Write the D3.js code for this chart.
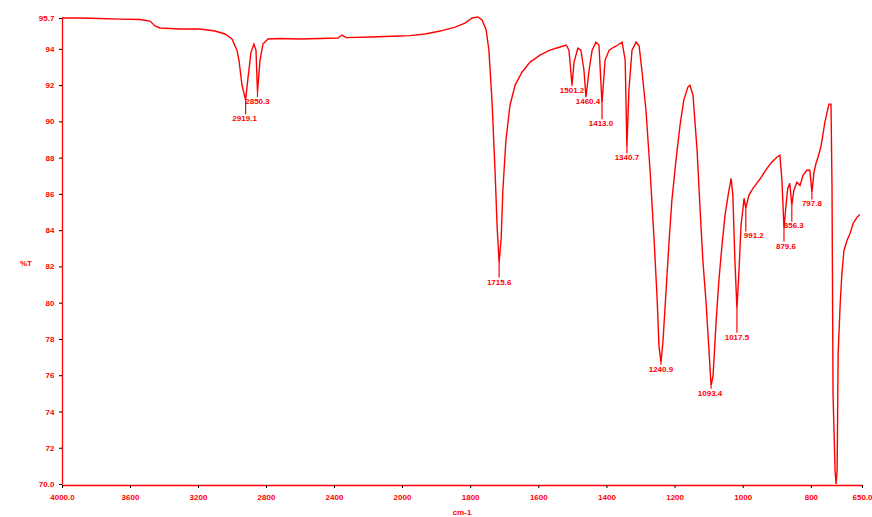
<!DOCTYPE html>
<html>
<head>
<meta charset="utf-8">
<script src="https://cdn.jsdelivr.net/npm/d3@7"></script>
<style>
  body { margin: 0; background: #fff; }
  svg text { font-family: "Liberation Sans", Arial, sans-serif; }
</style>
</head>
<body>
<div id="spectrum"></div>
<script>
// IR spectrum, wavenumber (cm-1) vs %T
const wavenumber = [4000, 3894, 3776, 3659, 3541, 3482, 3453, 3424, 3306, 3188, 3100, 3041, 3000, 2971, 2959, 2941,
  2920, 2906, 2888, 2871, 2859, 2850, 2835, 2818, 2788, 2718, 2600, 2482, 2376, 2353, 2329, 2188, 2012, 1977, 1932,
  1888, 1844, 1815, 1794, 1777, 1765, 1753, 1745, 1736, 1727, 1721, 1715, 1709, 1704, 1695, 1683, 1668, 1648, 1624,
  1595, 1566, 1536, 1518, 1510, 1501, 1495, 1484, 1475, 1466, 1460, 1451, 1442, 1431, 1422, 1413, 1404, 1392, 1378,
  1366, 1354, 1345, 1340, 1334, 1325, 1313, 1304, 1296, 1284, 1272, 1260, 1251, 1246, 1240, 1234, 1225, 1216, 1208,
  1196, 1184, 1173, 1161, 1155, 1146, 1134, 1125, 1117, 1108, 1099, 1093, 1087, 1078, 1070, 1061, 1052, 1043, 1034,
  1029, 1023, 1017, 1011, 1005, 996, 991, 982, 970, 959, 944, 929, 915, 900, 891, 885, 879, 873, 868, 862, 856, 850,
  841, 832, 823, 812, 803, 797, 791, 785, 779, 771, 765, 759, 753, 747, 741, 738, 735, 729, 726, 723, 720, 714, 709,
  703, 694, 685, 676, 665, 656];

const transmittance = [95.70, 95.70, 95.67, 95.64, 95.62, 95.53, 95.26, 95.15, 95.09, 95.09, 94.98, 94.82, 94.54,
  93.93, 93.37, 91.99, 91.17, 92.38, 93.82, 94.26, 93.93, 91.61, 93.38, 94.26, 94.54, 94.57, 94.54, 94.57, 94.60,
  94.76, 94.62, 94.65, 94.71, 94.73, 94.82, 94.98, 95.20, 95.42, 95.70, 95.76, 95.59, 95.04, 93.93, 91.17, 87.30,
  84.26, 82.21, 83.54, 86.19, 88.96, 90.89, 92.00, 92.71, 93.27, 93.65, 93.93, 94.10, 94.21, 93.93, 91.99, 93.27,
  94.04, 93.93, 92.82, 91.33, 92.82, 93.93, 94.37, 94.21, 91.00, 93.38, 93.93, 94.10, 94.21, 94.37, 93.38, 88.57,
  91.72, 93.93, 94.37, 94.15, 92.82, 90.61, 87.30, 83.43, 80.11, 77.63, 76.69, 77.90, 80.67, 83.43, 85.64, 87.85,
  89.79, 91.17, 91.89, 91.99, 91.44, 88.40, 85.09, 82.32, 80.11, 77.35, 75.42, 75.97, 79.01, 81.22, 83.15, 84.81,
  85.92, 86.86, 85.92, 82.32, 79.67, 81.77, 84.26, 85.75, 85.20, 85.92, 86.30, 86.58, 86.97, 87.41, 87.74, 88.02,
  88.13, 86.75, 84.09, 85.36, 86.30, 86.58, 85.36, 86.19, 86.64, 86.47, 87.02, 87.30, 87.30, 86.08, 87.19, 87.69,
  88.02, 88.57, 89.23, 89.95, 90.45, 90.95, 90.95, 86.36, 74.97, 70.72, 70.00, 70.72, 77.18, 79.95, 81.61, 82.88,
  83.43, 83.82, 84.37, 84.70, 84.87];

// labelled peaks
const peakWavenumbers = [2920, 2850, 1715, 1501, 1460, 1413, 1340, 1240, 1093, 1017, 991, 879, 856, 797];
const peakLabels = ["2919.1", "2850.3", "1715.6", "1501.2", "1460.4", "1413.0", "1340.7", "1240.9", "1093.4",
  "1017.5", "991.2", "879.6", "856.3", "797.8"];

// axis ticks
const xTicks = [4000, 3600, 3200, 2800, 2400, 2000, 1800, 1600, 1400, 1200, 1000, 800, 650];
const yTicks = [70.0, 72, 74, 76, 78, 80, 82, 84, 86, 88, 90, 92, 94, 95.7];

const width = 872, height = 517;
const red = "#ff0000";

const data = wavenumber.map((w, i) => ({ wn: w, t: transmittance[i] }));

const svg = d3.select("#spectrum")
  .append("svg")
  .attr("width", width)
  .attr("height", height);

// x is split: 4000-2000 compressed, 2000-650 expanded
const x = d3.scaleLinear()
  .domain([4000, 2000, 650])
  .range([62, 402, 862]);

const y = d3.scaleLinear()
  .domain([70.0, 95.7])
  .range([484, 18]);

// axes
const xAxis = svg.append("g")
  .attr("transform", `translate(0,${y(70) + 1})`)
  .call(d3.axisBottom(x)
    .tickValues(xTicks)
    .tickSize(3)
    .tickSizeOuter(0)
    .tickFormat(d => (d === 4000 || d === 650) ? d.toFixed(1) : d));

const yAxis = svg.append("g")
  .attr("transform", `translate(62,0)`)
  .call(d3.axisLeft(y)
    .tickValues(yTicks)
    .tickSize(3)
    .tickSizeOuter(0)
    .tickFormat(d => (d === 70 || d === 95.7) ? d.toFixed(1) : d));

[xAxis, yAxis].forEach(g => {
  g.select(".domain").attr("stroke", red).attr("stroke-width", 1.3);
  g.selectAll(".tick line").attr("stroke", "#000");
  g.selectAll(".tick text")
    .attr("fill", red)
    .style("font-size", "8px")
    .style("font-weight", "bold");
});
xAxis.selectAll(".tick text").attr("dy", "1.1em");
yAxis.selectAll(".tick text").attr("dx", "-0.2em");

// axis titles
svg.append("text")
  .attr("x", 26)
  .attr("y", 266)
  .attr("text-anchor", "middle")
  .attr("fill", red)
  .style("font-size", "8px")
  .style("font-weight", "bold")
  .text("%T");

svg.append("text")
  .attr("x", 462)
  .attr("y", 515)
  .attr("text-anchor", "middle")
  .attr("fill", red)
  .style("font-size", "8px")
  .style("font-weight", "bold")
  .text("cm-1");

// spectrum line
const line = d3.line()
  .x(d => x(d.wn))
  .y(d => y(d.t));

svg.append("path")
  .datum(data)
  .attr("fill", "none")
  .attr("stroke", red)
  .attr("stroke-width", 1.4)
  .attr("d", line);

// peak labels: drop line from the peak to its label
const labelDy = [18, 9, 19, 5, 4, 20, 10, 6, 7, 28, 27, 17, 20, 11];
const labelDx = [-1, 0, 0, 0, 2, -1, 0, 0, -1, 0, 8, 2, 2, 0];

const peaks = peakWavenumbers.map((w, i) => {
  const p = d3.least(data, d => Math.abs(d.wn - w));
  return { wn: w, t: p.t, label: peakLabels[i], dy: labelDy[i], dx: labelDx[i] };
});

const peak = svg.selectAll(".peak")
  .data(peaks)
  .join("g")
  .attr("class", "peak");

peak.append("line")
  .attr("x1", d => x(d.wn))
  .attr("x2", d => x(d.wn))
  .attr("y1", d => y(d.t))
  .attr("y2", d => y(d.t) + d.dy - 4)
  .attr("stroke", red)
  .attr("stroke-width", 1.2);

peak.append("text")
  .attr("x", d => x(d.wn) + d.dx)
  .attr("y", d => y(d.t) + d.dy + 3)
  .attr("text-anchor", "middle")
  .attr("fill", red)
  .style("font-size", "8px")
  .style("font-weight", "bold")
  .text(d => d.label);
</script>
</body>
</html>
